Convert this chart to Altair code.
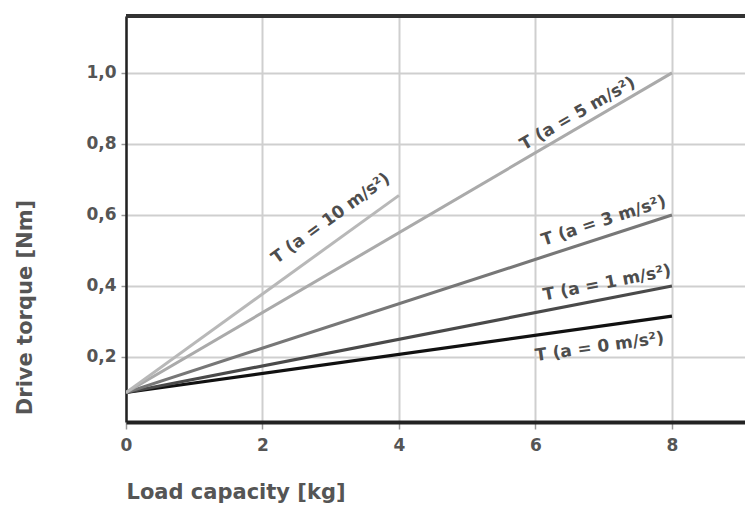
import altair as alt
import pandas as pd

# ---- data ----
series = ["a = 0", "a = 1", "a = 3", "a = 5", "a = 10"]
x_start = [0, 0, 0, 0, 0]
y_start = [0.10, 0.10, 0.10, 0.10, 0.10]
x_end = [8, 8, 8, 8, 4]
y_end = [0.315, 0.40, 0.60, 1.00, 0.655]
colors = ["#111111", "#4a4a4a", "#777777", "#aaaaaa", "#b8b8b8"]
widths = [3.2, 3.0, 3.0, 2.6, 2.6]

labels = ["T (a = 0 m/s²)", "T (a = 1 m/s²)", "T (a = 3 m/s²)", "T (a = 5 m/s²)", "T (a = 10 m/s²)"]
label_x = [6.94, 7.05, 7.0, 6.62, 3.0]
label_y = [0.228, 0.408, 0.583, 0.885, 0.59]
label_angle = [352, 349, 342, 330, 324]

x_ticks = [0, 2, 4, 6, 8]
y_ticks = [0.2, 0.4, 0.6, 0.8, 1.0]

W, H = 619, 406
x_dom = [0, 9.07]
y_dom = [0.017, 1.16]

rows = []
for s, xs, ys, xe, ye in zip(series, x_start, y_start, x_end, y_end):
    rows.append({"series": s, "x": xs, "y": ys, "o": 0})
    rows.append({"series": s, "x": xe, "y": ye, "o": 1})
df = pd.DataFrame(rows)
lab = pd.DataFrame({"label": labels, "x": label_x, "y": label_y, "angle": label_angle, "series": series})

FONT = "DejaVu Sans"

xs = alt.Scale(domain=x_dom, nice=False, zero=False)
ys = alt.Scale(domain=y_dom, nice=False, zero=False)

base = alt.Chart(df)

lines = base.mark_line(clip=True).encode(
    x=alt.X("x:Q", scale=xs, axis=alt.Axis(
        values=x_ticks, format="d", labelFlush=False, title="Load capacity [kg]",
        grid=True, gridColor="#cfcfcf", gridWidth=2,
        domainColor="#222222", domainWidth=4, tickColor="#999999", tickSize=7, tickWidth=1.5,
        labelFont=FONT, labelFontSize=17, labelColor="#555555", labelFontWeight="bold", labelPadding=8,
        titleFont=FONT, titleFontSize=21, titleColor="#555555", titleFontWeight="bold",
        titleAnchor="start", titleAlign="left", titleX=0, titleY=76, titleBaseline="alphabetic")),
    y=alt.Y("y:Q", scale=ys, axis=alt.Axis(
        values=y_ticks, title="Drive torque [Nm]", grid=True, gridColor="#cfcfcf", gridWidth=2,
        domainColor="#222222", domainWidth=2.5, tickColor="#999999", tickSize=5, tickWidth=1.5,
        labelExpr="replace(format(datum.value, '.1f'), '.', ',')",
        labelFont=FONT, labelFontSize=17, labelColor="#555555", labelFontWeight="bold", labelPadding=5,
        titleFont=FONT, titleFontSize=21, titleColor="#555555", titleFontWeight="bold",
        titleAngle=270, titleX=-101, titleY=291, titleAlign="center", titleBaseline="middle")),
    detail="series:N",
    order="o:Q",
    color=alt.Color("series:N", scale=alt.Scale(domain=series, range=colors), legend=None),
    strokeWidth=alt.StrokeWidth("series:N", scale=alt.Scale(domain=series, range=widths), legend=None),
)

top_rule = alt.Chart(df).mark_rule(color="#333333", strokeWidth=3.5).encode(
    x=alt.value(0), x2=alt.value(W), y=alt.value(0)
)

texts = alt.Chart(lab).mark_text(font=FONT, fontSize=17, fontWeight="bold", color="#4d4d4d").encode(
    x=alt.X("x:Q", scale=xs), y=alt.Y("y:Q", scale=ys), text="label:N",
    angle=alt.Angle("angle:Q", scale=None),
)

chart = alt.layer(lines, texts, top_rule).properties(
    width=W, height=H,
    autosize=alt.AutoSizeParams(type="none"),
    padding={"left": 118, "top": 8, "right": 0, "bottom": 83},
).configure_view(stroke=None).configure(background="white")

chart.save("out.html", embed_options={"renderer": "svg", "actions": False})
